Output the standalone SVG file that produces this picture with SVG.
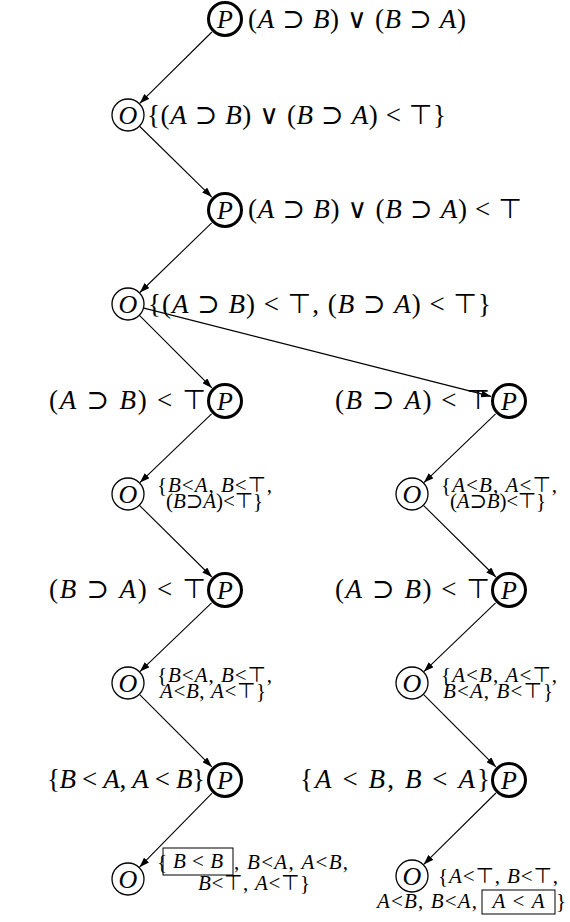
<svg xmlns="http://www.w3.org/2000/svg" width="570" height="922" viewBox="0 0 570 922">
<defs>
<style>
.t{font-family:"Liberation Serif","DejaVu Serif",serif;font-size:27px;fill:#000}
.s{font-size:21px}
.i{font-style:italic}
.m{font-family:"DejaVu Sans",sans-serif;font-style:normal}
.lt{font-family:"Liberation Serif","DejaVu Serif",serif;font-style:italic;font-size:26px;text-anchor:middle;fill:#000}
.pc{fill:#fff;stroke:#000;stroke-width:3}
.oc{fill:#fff;stroke:#000;stroke-width:1.3}
.e{stroke:#000;stroke-width:1.1;fill:none;marker-end:url(#ah)}
.bx{fill:none;stroke:#000;stroke-width:1}
</style>
<marker id="ah" markerUnits="userSpaceOnUse" markerWidth="10" markerHeight="7" refX="10" refY="3.5" orient="auto">
<path d="M0,0 L10,3.5 L0,7 z" fill="#000"/>
</marker>
</defs>
<rect width="570" height="922" fill="#fff"/>
<g id="connectors">
<line class="e" x1="211.9" y1="32" x2="139.7" y2="103.4"/>
<line class="e" x1="139.8" y1="126.5" x2="211.8" y2="197.1"/>
<line class="e" x1="211.7" y1="222.9" x2="139.8" y2="292.5"/>
<line class="e" x1="139.7" y1="315.7" x2="211.9" y2="387.9"/>
<line class="e" x1="144" y1="308.1" x2="491.1" y2="396.4"/>
<line class="e" x1="211.6" y1="413.8" x2="139.9" y2="482.6"/>
<line class="e" x1="495.6" y1="413.8" x2="423.9" y2="482.6"/>
<line class="e" x1="139.7" y1="505.6" x2="211.9" y2="577"/>
<line class="e" x1="423.7" y1="505.6" x2="495.9" y2="577"/>
<line class="e" x1="211.6" y1="602.8" x2="139.9" y2="671.6"/>
<line class="e" x1="495.6" y1="602.8" x2="423.9" y2="671.6"/>
<line class="e" x1="139.7" y1="694.7" x2="211.9" y2="766.9"/>
<line class="e" x1="423.7" y1="694.7" x2="495.9" y2="766.9"/>
<line class="e" x1="212.1" y1="793.2" x2="139.5" y2="867.2"/>
<line class="e" x1="495.9" y1="793" x2="423.7" y2="864.4"/>
</g>
<g id="p1">
<circle class="pc" cx="225" cy="19" r="16.5"/><text class="lt" x="225" y="28">P</text>
<text class="t" x="248" y="28" textLength="218" lengthAdjust="spacing">(<tspan class="i">A</tspan> ⊃ <tspan class="i">B</tspan>) ∨ (<tspan class="i">B</tspan> ⊃ <tspan class="i">A</tspan>)</text>
</g>
<g id="o1">
<circle class="oc" cx="128" cy="115" r="16"/><text class="lt" x="128" y="124">O</text>
<text class="t" x="147" y="124" textLength="299" lengthAdjust="spacing">{(<tspan class="i">A</tspan> ⊃ <tspan class="i">B</tspan>) ∨ (<tspan class="i">B</tspan> ⊃ <tspan class="i">A</tspan>) &lt; <tspan class="m">⊤</tspan>}</text>
</g>
<g id="p2">
<circle class="pc" cx="225" cy="210" r="16.5"/><text class="lt" x="225" y="219">P</text>
<text class="t" x="248" y="218" textLength="274" lengthAdjust="spacing">(<tspan class="i">A</tspan> ⊃ <tspan class="i">B</tspan>) ∨ (<tspan class="i">B</tspan> ⊃ <tspan class="i">A</tspan>) &lt; <tspan class="m">⊤</tspan></text>
</g>
<g id="o2">
<circle class="oc" cx="128" cy="304" r="16"/><text class="lt" x="128" y="313">O</text>
<text class="t" x="148" y="313" textLength="343" lengthAdjust="spacing">{(<tspan class="i">A</tspan> ⊃ <tspan class="i">B</tspan>) &lt; <tspan class="m">⊤</tspan>, (<tspan class="i">B</tspan> ⊃ <tspan class="i">A</tspan>) &lt; <tspan class="m">⊤</tspan>}</text>
</g>
<g id="p3l">
<circle class="pc" cx="225" cy="401" r="16.5"/><text class="lt" x="225" y="410">P</text>
<text class="t" x="206" y="409" text-anchor="end" textLength="157" lengthAdjust="spacing">(<tspan class="i">A</tspan> ⊃ <tspan class="i">B</tspan>) &lt; <tspan class="m">⊤</tspan></text>
</g>
<g id="p3r">
<circle class="pc" cx="509" cy="401" r="16.5"/><text class="lt" x="509" y="410">P</text>
<text class="t" x="490" y="409" text-anchor="end" textLength="155" lengthAdjust="spacing">(<tspan class="i">B</tspan> ⊃ <tspan class="i">A</tspan>) &lt; <tspan class="m">⊤</tspan></text>
</g>
<g id="o3l">
<circle class="oc" cx="128" cy="494" r="16"/><text class="lt" x="128" y="503">O</text>
<text class="t s" x="157" y="492" textLength="115" lengthAdjust="spacing">{<tspan class="i">B</tspan>&lt;<tspan class="i">A</tspan>, <tspan class="i">B</tspan>&lt;<tspan class="m">⊤</tspan>,</text>
<text class="t s" x="166" y="508" textLength="97" lengthAdjust="spacing">(<tspan class="i">B</tspan>⊃<tspan class="i">A</tspan>)&lt;<tspan class="m">⊤</tspan>}</text>
</g>
<g id="o3r">
<circle class="oc" cx="412" cy="494" r="16"/><text class="lt" x="412" y="503">O</text>
<text class="t s" x="441" y="492" textLength="116" lengthAdjust="spacing">{<tspan class="i">A</tspan>&lt;<tspan class="i">B</tspan>, <tspan class="i">A</tspan>&lt;<tspan class="m">⊤</tspan>,</text>
<text class="t s" x="450" y="508" textLength="96" lengthAdjust="spacing">(<tspan class="i">A</tspan>⊃<tspan class="i">B</tspan>)&lt;<tspan class="m">⊤</tspan>}</text>
</g>
<g id="p4l">
<circle class="pc" cx="225" cy="590" r="16.5"/><text class="lt" x="225" y="599">P</text>
<text class="t" x="206" y="598" text-anchor="end" textLength="157" lengthAdjust="spacing">(<tspan class="i">B</tspan> ⊃ <tspan class="i">A</tspan>) &lt; <tspan class="m">⊤</tspan></text>
</g>
<g id="p4r">
<circle class="pc" cx="509" cy="590" r="16.5"/><text class="lt" x="509" y="599">P</text>
<text class="t" x="490" y="598" text-anchor="end" textLength="155" lengthAdjust="spacing">(<tspan class="i">A</tspan> ⊃ <tspan class="i">B</tspan>) &lt; <tspan class="m">⊤</tspan></text>
</g>
<g id="o4l">
<circle class="oc" cx="128" cy="683" r="16"/><text class="lt" x="128" y="692">O</text>
<text class="t s" x="157" y="682" textLength="115" lengthAdjust="spacing">{<tspan class="i">B</tspan>&lt;<tspan class="i">A</tspan>, <tspan class="i">B</tspan>&lt;<tspan class="m">⊤</tspan>,</text>
<text class="t s" x="160" y="698" textLength="106" lengthAdjust="spacing"><tspan class="i">A</tspan>&lt;<tspan class="i">B</tspan>, <tspan class="i">A</tspan>&lt;<tspan class="m">⊤</tspan>}</text>
</g>
<g id="o4r">
<circle class="oc" cx="412" cy="683" r="16"/><text class="lt" x="412" y="692">O</text>
<text class="t s" x="441" y="682" textLength="116" lengthAdjust="spacing">{<tspan class="i">A</tspan>&lt;<tspan class="i">B</tspan>, <tspan class="i">A</tspan>&lt;<tspan class="m">⊤</tspan>,</text>
<text class="t s" x="443" y="698" textLength="110" lengthAdjust="spacing"><tspan class="i">B</tspan>&lt;<tspan class="i">A</tspan>, <tspan class="i">B</tspan>&lt;<tspan class="m">⊤</tspan>}</text>
</g>
<g id="p5l">
<circle class="pc" cx="225" cy="780" r="16.5"/><text class="lt" x="225" y="789">P</text>
<text class="t" x="205" y="788" text-anchor="end" textLength="158" lengthAdjust="spacing">{<tspan class="i">B</tspan> &lt; <tspan class="i">A</tspan>, <tspan class="i">A</tspan> &lt; <tspan class="i">B</tspan>}</text>
</g>
<g id="p5r">
<circle class="pc" cx="509" cy="780" r="16.5"/><text class="lt" x="509" y="789">P</text>
<text class="t" x="490" y="788" text-anchor="end" textLength="190" lengthAdjust="spacing">{<tspan class="i">A</tspan> &lt; <tspan class="i">B</tspan>, <tspan class="i">B</tspan> &lt; <tspan class="i">A</tspan>}</text>
</g>
<g id="o5l">
<circle class="oc" cx="128" cy="879" r="16"/><text class="lt" x="128" y="888">O</text>
<rect class="bx" x="163" y="848" width="70" height="27"/>
<text class="t s" x="157" y="869">{</text>
<text class="t s" x="198" y="868" text-anchor="middle" textLength="50" lengthAdjust="spacing"><tspan class="i">B</tspan> &lt; <tspan class="i">B</tspan></text>
<text class="t s" x="234" y="869" textLength="114" lengthAdjust="spacing">, <tspan class="i">B</tspan>&lt;<tspan class="i">A</tspan>, <tspan class="i">A</tspan>&lt;<tspan class="i">B</tspan>,</text>
<text class="t s" x="198" y="890" textLength="112" lengthAdjust="spacing"><tspan class="i">B</tspan>&lt;<tspan class="m">⊤</tspan>, <tspan class="i">A</tspan>&lt;<tspan class="m">⊤</tspan>}</text>
</g>
<g id="o5r">
<circle class="oc" cx="412" cy="876" r="16"/><text class="lt" x="412" y="885">O</text>
<text class="t s" x="438" y="883" textLength="120" lengthAdjust="spacing">{<tspan class="i">A</tspan>&lt;<tspan class="m">⊤</tspan>, <tspan class="i">B</tspan>&lt;<tspan class="m">⊤</tspan>,</text>
<text class="t s" x="377" y="908" textLength="100" lengthAdjust="spacing"><tspan class="i">A</tspan>&lt;<tspan class="i">B</tspan>, <tspan class="i">B</tspan>&lt;<tspan class="i">A</tspan>,</text>
<rect class="bx" x="482" y="890" width="73" height="24"/>
<text class="t s" x="518.5" y="908" text-anchor="middle" textLength="52" lengthAdjust="spacing"><tspan class="i">A</tspan> &lt; <tspan class="i">A</tspan></text>
<text class="t s" x="556" y="908">}</text>
</g>
</svg>
